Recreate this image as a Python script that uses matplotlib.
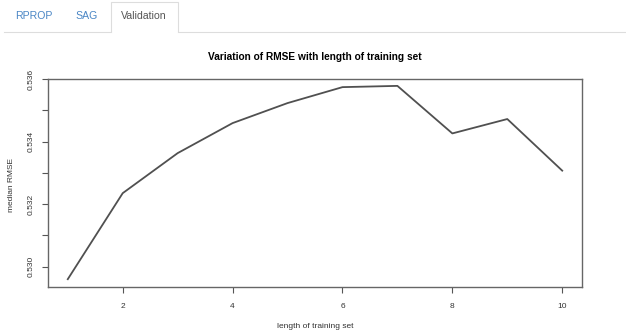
import matplotlib.pyplot as plt
from matplotlib.lines import Line2D
from matplotlib.patches import Polygon

# median RMSE per length of training set
lengths = [1, 2, 3, 4, 5, 6, 7, 8, 9, 10]
median_rmse = [0.52960, 0.53235, 0.53363, 0.53459, 0.53523,
               0.53574, 0.53578, 0.53426, 0.53472, 0.53307]
tab_names = ['RPROP', 'SAG', 'Validation']

W, H = 626, 335
fig = plt.figure(figsize=(W / 100, H / 100), dpi=100)
plt.rcParams['font.family'] = ['Liberation Sans', 'DejaVu Sans']


def px(x, y):
    """pixel coords (top-left origin) -> figure fraction"""
    return x / W, 1 - y / H


# tab bar on top of the page
tab_x = [34, 87, 144]
for name, x in zip(tab_names, tab_x):
    colour = '#555555' if name == 'Validation' else '#4a86c5'
    fig.text(*px(x, 16), name, ha='center', va='center',
             fontsize=7.6, color=colour)
fig.add_artist(Line2D([4 / W, 111 / W], [1 - 32 / H] * 2,
                      color='#dddddd', lw=0.8))
fig.add_artist(Line2D([178 / W, 1], [1 - 32 / H] * 2,
                      color='#dddddd', lw=0.8))
fig.add_artist(Polygon([px(111, 32), px(111, 2), px(178, 2), px(178, 32)],
                       closed=False, fill=False, edgecolor='#dddddd', lw=0.8,
                       transform=fig.transFigure))

ax = fig.add_axes([48 / W, (H - 287) / H, (582 - 48) / W, (287 - 79) / H])
ax.plot(lengths, median_rmse, color='#505050', lw=1.3)

ax.set_xlim(0.64, 10.36)
ax.set_ylim(0.52935, 0.536)
ax.set_xticks([2, 4, 6, 8, 10])
ax.set_yticks([0.530, 0.531, 0.532, 0.533, 0.534, 0.535, 0.536])
ax.set_yticklabels(['0.530', '', '0.532', '', '0.534', '', '0.536'],
                   rotation=90, va='center')
ax.tick_params(labelsize=6, color='#555555', labelcolor='#333333',
               length=4.5, width=0.8)
ax.tick_params(axis='x', pad=7)
ax.tick_params(axis='y', pad=5)

for s in ax.spines.values():
    s.set_color('#666666')
    s.set_linewidth(1.0)

fig.text(*px(315, 57), 'Variation of RMSE with length of training set',
         ha='center', va='center', fontsize=7.3, fontweight='bold')
fig.text(*px(315, 327), 'length of training set', ha='center', va='center',
         fontsize=6, color='#333333')
fig.text(*px(12, 185), 'median RMSE', ha='center', va='center',
         fontsize=6, color='#333333', rotation=90)

fig.savefig('out.png', dpi=100)
